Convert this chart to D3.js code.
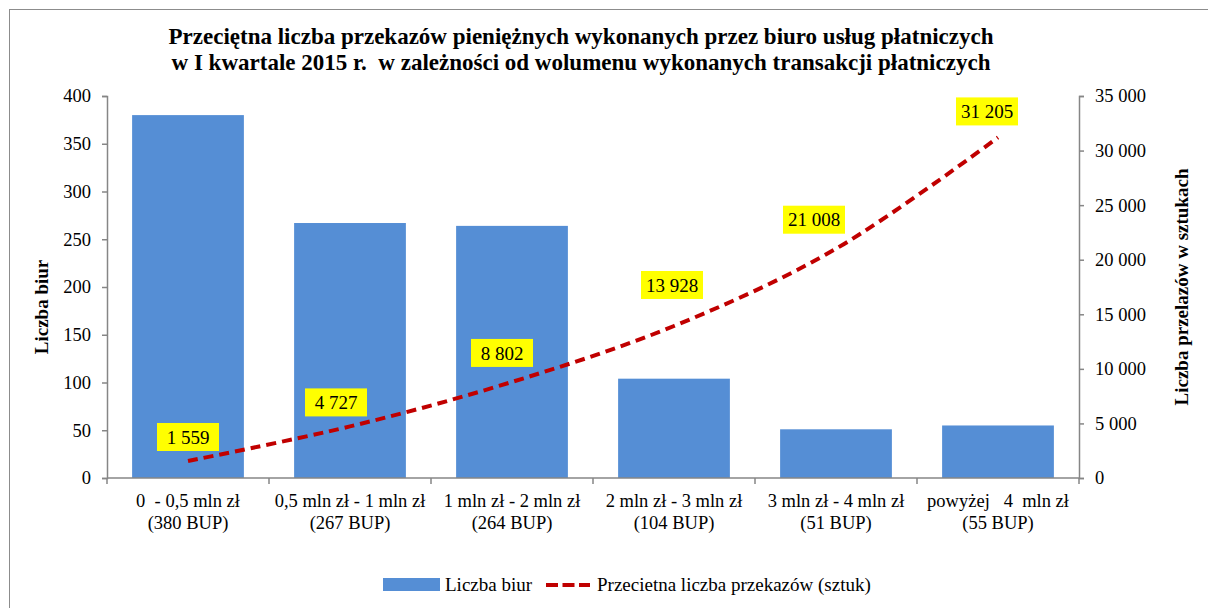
<!DOCTYPE html>
<html>
<head>
<meta charset="utf-8">
<script src="https://cdn.jsdelivr.net/npm/d3@7"></script>
<style>
  body { margin: 0; background: #fff; }
  svg { font-family: "Liberation Serif", "Times New Roman", serif; }
</style>
</head>
<body>
<svg width="1208" height="608"></svg>
<script>
var categories = ["0  - 0,5 mln zł", "0,5 mln zł - 1 mln zł", "1 mln zł - 2 mln zł", "2 mln zł - 3 mln zł", "3 mln zł - 4 mln zł", "powyżej   4  mln zł"];
var subLabels = ["(380 BUP)", "(267 BUP)", "(264 BUP)", "(104 BUP)", "(51 BUP)", "(55 BUP)"];
var offices = [380, 267, 264, 104, 51, 55];
var transfers = [1559, 4727, 8802, 13928, 21008, 31205];
var leftTicks = [0, 50, 100, 150, 200, 250, 300, 350, 400];
var rightTicks = [0, 5000, 10000, 15000, 20000, 25000, 30000, 35000];

// manual label nudges (in the original the labels were dragged by hand)
var labelNudgeX = [0, -14, -10, -2, -22, -11];
var labelNudgeY = [0, 0, -5, -17, -5, -2];

var svg = d3.select("svg"),
    plotLeft = 107, plotRight = 1079, plotTop = 96, plotBottom = 478;

svg.append("rect")
  .attr("x", 9.5).attr("y", 9.5).attr("width", 1220).attr("height", 620)
  .attr("fill", "none").attr("stroke", "#8c8c8c").attr("stroke-width", 1);

var title = svg.append("text")
  .attr("text-anchor", "middle")
  .attr("font-weight", "bold").attr("font-size", 23);
title.append("tspan").attr("x", 581).attr("y", 44)
  .text("Przeciętna liczba przekazów pieniężnych wykonanych przez biuro usług płatniczych");
title.append("tspan").attr("x", 581).attr("y", 70)
  .attr("xml:space", "preserve").style("white-space", "pre")
  .text("w I kwartale 2015 r.  w zależności od wolumenu wykonanych transakcji płatniczych");

var x = d3.scaleBand().domain(categories).range([plotLeft, plotRight]).paddingInner(0.31).paddingOuter(0.155);
var xc = d3.scaleBand().domain(categories).range([plotLeft, plotRight]);
var y = d3.scaleLinear().domain([0, 400]).range([plotBottom, plotTop]);
var y2 = d3.scaleLinear().domain([0, 35000]).range([plotBottom, plotTop]);

var fmt = function(v) { return d3.format(",")(v).replace(/,/g, " "); };

// bars
svg.append("g").selectAll("rect")
  .data(offices)
  .enter().append("rect")
  .attr("x", function(d, i) { return x(categories[i]); })
  .attr("y", function(d) { return y(d); })
  .attr("width", x.bandwidth())
  .attr("height", function(d) { return plotBottom - y(d); })
  .attr("fill", "#558ed5");

// axes
var axisColor = "#868686";
var gl = svg.append("g").attr("transform", "translate(" + plotLeft + ",0)")
  .call(d3.axisLeft(y).tickValues(leftTicks).tickSize(5).tickPadding(11));
var gr = svg.append("g").attr("transform", "translate(" + plotRight + ",0)")
  .call(d3.axisRight(y2).tickValues(rightTicks).tickSize(5).tickPadding(11).tickFormat(fmt));
[gl, gr].forEach(function(g) {
  g.select(".domain").attr("stroke", axisColor).attr("stroke-width", 1.5);
  g.selectAll(".tick line").attr("stroke", axisColor).attr("stroke-width", 1.5);
  g.selectAll(".tick text").attr("font-size", 18.5).attr("fill", "#000")
    .attr("font-family", "Liberation Serif");
});

var gx = svg.append("g");
gx.append("line").attr("x1", plotLeft).attr("x2", plotRight).attr("y1", plotBottom).attr("y2", plotBottom)
  .attr("stroke", axisColor).attr("stroke-width", 1.5);
gx.selectAll(".xt")
  .data(categories.concat([null]))
  .enter().append("line")
  .attr("x1", function(d, i) { return plotLeft + i * xc.bandwidth(); })
  .attr("x2", function(d, i) { return plotLeft + i * xc.bandwidth(); })
  .attr("y1", plotBottom).attr("y2", plotBottom + 6)
  .attr("stroke", axisColor).attr("stroke-width", 1.5);
var xl = gx.selectAll(".xl")
  .data(categories)
  .enter().append("text")
  .attr("text-anchor", "middle").attr("font-size", 18.5)
  .attr("xml:space", "preserve").style("white-space", "pre");
xl.append("tspan")
  .attr("x", function(d) { return xc(d) + xc.bandwidth() / 2; })
  .attr("y", 507)
  .text(function(d) { return d; });
xl.append("tspan")
  .attr("x", function(d) { return xc(d) + xc.bandwidth() / 2; })
  .attr("y", 529)
  .text(function(d, i) { return subLabels[i]; });

// axis titles
svg.append("text")
  .attr("transform", "translate(48," + ((plotTop + plotBottom) / 2 + 20) + ") rotate(-90)")
  .attr("text-anchor", "middle").attr("font-weight", "bold").attr("font-size", 19)
  .text("Liczba biur");
svg.append("text")
  .attr("transform", "translate(1188," + ((plotTop + plotBottom) / 2) + ") rotate(-90)")
  .attr("text-anchor", "middle").attr("font-weight", "bold").attr("font-size", 19)
  .text("Liczba przelazów w sztukach");

// line
var cx = function(i) { return xc(categories[i]) + xc.bandwidth() / 2; };
var line = d3.line()
  .x(function(d, i) { return cx(i); })
  .y(function(d) { return y2(d); })
  .curve(d3.curveCatmullRom.alpha(0.5));
svg.append("path")
  .datum(transfers)
  .attr("d", line)
  .attr("fill", "none")
  .attr("stroke", "#c00000")
  .attr("stroke-width", 4)
  .attr("stroke-dasharray", "10,6");

// data labels
var lbl = svg.append("g").selectAll("g")
  .data(transfers)
  .enter().append("g")
  .attr("transform", function(d, i) {
    return "translate(" + (cx(i) + labelNudgeX[i]) + "," + (y2(d) - 24 + labelNudgeY[i]) + ")";
  });
lbl.append("rect")
  .attr("x", -31).attr("y", -14).attr("width", 62).attr("height", 28)
  .attr("fill", "#ffff00");
lbl.append("text")
  .attr("text-anchor", "middle").attr("dy", "0.35em").attr("font-size", 19)
  .text(function(d) { return fmt(d); });

// legend
var lg = svg.append("g");
lg.append("rect").attr("x", 383).attr("y", 578).attr("width", 57).attr("height", 13).attr("fill", "#558ed5");
lg.append("text").attr("x", 445).attr("y", 591).attr("font-size", 19).text("Liczba biur");
lg.append("line").attr("x1", 546).attr("x2", 590).attr("y1", 585).attr("y2", 585)
  .attr("stroke", "#c00000").attr("stroke-width", 4).attr("stroke-dasharray", "12,4.5");
lg.append("text").attr("x", 597).attr("y", 591).attr("font-size", 19)
  .text("Przecietna liczba przekazów (sztuk)");
</script>
</body>
</html>
